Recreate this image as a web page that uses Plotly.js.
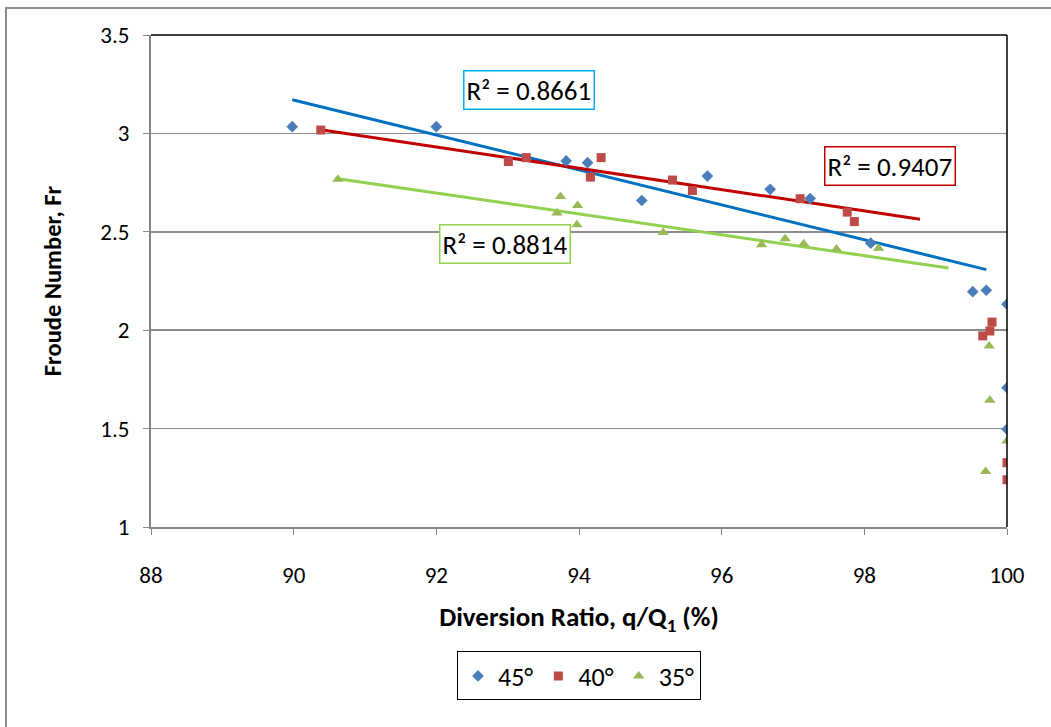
<!DOCTYPE html>
<html>
<head>
<meta charset="utf-8">
<script src="https://cdn.plot.ly/plotly-3.0.1.min.js"></script>
<style>
  html, body { margin: 0; background: #fff; overflow: hidden; }
  #chart { width: 1051px; height: 727px; }
  #frame { position: absolute; left: 5px; top: 7px; width: 2000px; height: 2000px;
           border: 2px solid #8c8c8c; pointer-events: none; }
</style>
</head>
<body>
<div id="chart"></div>
<div id="frame"></div>
<script>
// 45° series
const x45 = [89.98, 92.0, 93.82, 94.12, 94.88, 95.80, 96.68, 97.24, 98.09, 99.52, 99.71, 100, 100, 100];
const y45 = [3.034, 3.034, 2.860, 2.851, 2.659, 2.783, 2.716, 2.669, 2.442, 2.196, 2.203, 2.132, 1.708, 1.497];
// 40° series
const x40 = [90.38, 93.01, 93.26, 94.31, 94.16, 95.31, 95.59, 97.10, 97.76, 97.86, 99.79, 99.76, 99.66, 100, 100];
const y40 = [3.017, 2.857, 2.877, 2.877, 2.778, 2.763, 2.710, 2.668, 2.600, 2.552, 2.041, 1.996, 1.971, 1.327, 1.240];
// 35° series
const x35 = [90.62, 93.74, 93.69, 93.98, 93.97, 95.18, 96.56, 96.89, 97.15, 97.61, 98.20, 99.75, 99.76, 100, 99.70];
const y35 = [2.767, 2.679, 2.595, 2.634, 2.536, 2.497, 2.434, 2.465, 2.439, 2.412, 2.417, 1.920, 1.644, 1.437, 1.282];
// linear trendlines (end points)
const t45x = [89.98, 99.71], t45y = [3.171, 2.308];
const t40x = [90.38, 98.78], t40y = [3.019, 2.564];
const t35x = [90.62, 99.18], t35y = [2.770, 2.316];
const seriesNames = ['45°', '40°', '35°'];
const r2Labels = ['R² = 0.8661', 'R² = 0.9407', 'R² = 0.8814'];
const r2X = [93.30, 98.36, 92.96];
const r2Y = [3.222, 2.835, 2.437];

const FONT = 'Carlito, Lato, "Open Sans", "Liberation Sans", sans-serif';

const traces = [
  {x: t45x, y: t45y, mode: 'lines', line: {color: '#0070C0', width: 3}, showlegend: false, hoverinfo: 'skip'},
  {x: t40x, y: t40y, mode: 'lines', line: {color: '#C00000', width: 3}, showlegend: false, hoverinfo: 'skip'},
  {x: t35x, y: t35y, mode: 'lines', line: {color: '#92D050', width: 3}, showlegend: false, hoverinfo: 'skip'},
  {x: x45, y: y45, mode: 'markers', name: seriesNames[0],
   marker: {symbol: 'diamond', size: 9, color: '#4A7EBB'}},
  {x: x40, y: y40, mode: 'markers', name: seriesNames[1],
   marker: {symbol: 'square', size: 9, color: '#BE4B48'}},
  {x: x35, y: y35, mode: 'markers', name: seriesNames[2],
   marker: {symbol: 'triangle-up', size: 10, color: '#98B954'}}
];

const boxColors = ['#00B0F0', '#C00000', '#92D050'];
const annotations = r2Labels.map((t, i) => ({
  x: r2X[i], y: r2Y[i], xref: 'x', yref: 'y', text: t, showarrow: false,
  font: {family: FONT, size: 27, color: '#000'},
  bgcolor: '#fff', bordercolor: boxColors[i], borderwidth: 1.5, borderpad: 2
}));

const layout = {
  width: 1051, height: 727,
  margin: {l: 151, r: 44, t: 35, b: 200},
  paper_bgcolor: '#fff', plot_bgcolor: '#fff',
  font: {family: FONT, size: 23, color: '#000'},
  xaxis: {
    range: [88, 100], dtick: 2, tick0: 88,
    showgrid: false, zeroline: false,
    showline: true, linecolor: '#868686', linewidth: 2,
    ticks: 'outside', ticklen: 6, tickcolor: '#868686', tickwidth: 1,
    ticklabelstandoff: 20,
    tickfont: {family: FONT, size: 23},
    title: {text: '<b>Diversion Ratio, q/Q<sub>1</sub> (%)</b>', font: {family: FONT, size: 27}, standoff: 20}
  },
  yaxis: {
    range: [1, 3.5], dtick: 0.5, tick0: 1,
    showgrid: true, gridcolor: '#8c8c8c', gridwidth: 1.5,
    zeroline: false,
    showline: true, linecolor: '#868686', linewidth: 2,
    ticks: 'outside', ticklen: 6, tickcolor: '#868686', tickwidth: 1,
    ticklabelstandoff: 9,
    tickfont: {family: FONT, size: 23},
    title: {text: '<b>Froude Number, Fr</b>', font: {family: FONT, size: 24.5}, standoff: 32}
  },
  legend: {
    orientation: 'h', x: 0.5, xanchor: 'center', y: -0.253, yanchor: 'top',
    bordercolor: '#000', borderwidth: 1, bgcolor: '#fff',
    font: {family: FONT, size: 26}, itemwidth: 30
  },
  shapes: [
    {type: 'line', xref: 'paper', yref: 'paper', x0: 0, x1: 1, y0: 1, y1: 1, line: {color: '#000', width: 1.5}},
    {type: 'line', xref: 'paper', yref: 'paper', x0: 1, x1: 1, y0: 0, y1: 1, line: {color: '#000', width: 1.5}}
  ],
  annotations: annotations
};

Plotly.newPlot('chart', traces, layout, {displayModeBar: false, staticPlot: true});
</script>
</body>
</html>
